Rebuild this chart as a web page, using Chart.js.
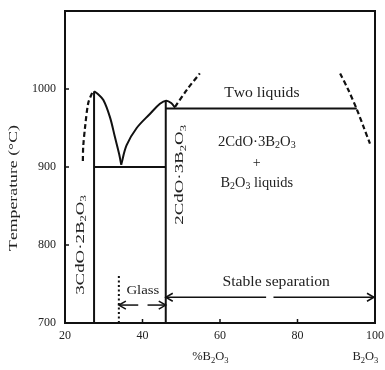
<!DOCTYPE html>
<html><head><meta charset="utf-8">
<script src="https://cdn.jsdelivr.net/npm/chart.js@4"></script>
<style>html,body{margin:0;padding:0;background:#fff}</style>
</head><body>
<canvas id="c" width="385" height="370"></canvas>
<script>
// ---- data (wt% B2O3, temperature °C) ----
const xTicks = [20, 40, 60, 80, 100];
const yTicks = [700, 800, 900, 1000];
const xRange = [20, 100];
const yRange = [700, 1100];

const compound32 = [[27.5, 700], [27.5, 997]];
const compound23 = [[46, 700], [46, 985]];
const eutecticLine = [[27.5, 900], [46, 900]];
const monotecticLine = [[46, 975], [95.3, 975]];
const liquidusA = [[27.5, 997], [28.4, 994], [29.9, 986], [31.6, 964], [32.9, 938], [34.0, 916], [34.5, 903]];
const liquidusB = [[34.5, 903], [35.9, 928], [38.5, 950], [41.9, 968], [44.5, 981], [46.1, 985], [47.4, 982], [48.4, 976]];
const dashedLeft = [[27.0, 995], [26.0, 982], [25.2, 952], [24.7, 926], [24.6, 905]];
const dashedMid = [[48.4, 977], [51.6, 1000], [54.8, 1020]];
const dashedRight = [[91.0, 1020], [93.1, 999], [95.3, 974], [97.0, 952], [98.7, 930]];
const glassBoundary = [[33.9, 700], [33.9, 762]];
const glassArrowL = [[33.9, 723], [38.9, 723]];
const glassArrowR = [[41.3, 723], [46, 723]];
const stableArrowL = [[46, 733], [71.9, 733]];
const stableArrowR = [[73.8, 733], [100, 733]];

const toPts = a => a.map(p => ({x: p[0], y: p[1]}));
const INK = '#111';
function solid(d, t) { return {data: toPts(d), showLine: true, borderColor: INK, borderWidth: 2, pointRadius: 0, tension: t || 0, fill: false}; }
function dashed(d, t) { return {data: toPts(d), showLine: true, borderColor: INK, borderWidth: 2.2, borderDash: [5, 3], pointRadius: 0, tension: t || 0, fill: false}; }
function thin(d) { return {data: toPts(d), showLine: true, borderColor: INK, borderWidth: 1.5, pointRadius: 0, fill: false}; }

const FONT = "'Liberation Serif', 'DejaVu Serif', serif";
const TEXT = '#222';

function rich(ctx, str, x, y, size, rot, stretch) {
  // '_' marks the next char as subscript
  const segs = [];
  for (let i = 0; i < str.length; i++) {
    if (str[i] === '_' && i + 1 < str.length) { segs.push({t: str[i + 1], sub: true}); i++; }
    else segs.push({t: str[i], sub: false});
  }
  let w = 0;
  segs.forEach(s => { ctx.font = (s.sub ? size * 0.68 : size) + 'px ' + FONT; s.w = ctx.measureText(s.t).width; w += s.w; });
  ctx.save();
  ctx.translate(x, y);
  if (rot) ctx.rotate(rot);
  ctx.scale(stretch || 1, 1);
  ctx.fillStyle = TEXT;
  ctx.textBaseline = 'middle';
  ctx.textAlign = 'left';
  let cx = -w / 2;
  segs.forEach(s => {
    ctx.font = (s.sub ? size * 0.68 : size) + 'px ' + FONT;
    ctx.fillText(s.t, cx, s.sub ? size * 0.28 : 0);
    cx += s.w;
  });
  ctx.restore();
}

function arrowHead(ctx, px, py, dir) {
  ctx.beginPath();
  ctx.moveTo(px - dir * 7, py - 4);
  ctx.lineTo(px, py);
  ctx.lineTo(px - dir * 7, py + 4);
  ctx.stroke();
}

const decor = {
  id: 'decor',
  afterDatasetsDraw(chart) {
    const {ctx, chartArea: a, scales: {x, y}} = chart;
    ctx.save();
    ctx.strokeStyle = INK;
    ctx.lineWidth = 2;
    ctx.strokeRect(a.left, a.top, a.right - a.left, a.bottom - a.top);
    ctx.lineWidth = 1.5;
    xTicks.slice(1, -1).forEach(v => { const px = x.getPixelForValue(v); ctx.beginPath(); ctx.moveTo(px, a.bottom); ctx.lineTo(px, a.bottom - 4); ctx.stroke(); });
    yTicks.slice(1).forEach(v => { const py = y.getPixelForValue(v); ctx.beginPath(); ctx.moveTo(a.left, py); ctx.lineTo(a.left + 4, py); ctx.stroke(); });
    // arrowheads
    ctx.lineWidth = 1.5;
    arrowHead(ctx, x.getPixelForValue(glassArrowL[0][0]), y.getPixelForValue(glassArrowL[0][1]), -1);
    arrowHead(ctx, x.getPixelForValue(glassArrowR[1][0]), y.getPixelForValue(glassArrowR[1][1]), 1);
    arrowHead(ctx, x.getPixelForValue(stableArrowL[0][0]), y.getPixelForValue(stableArrowL[0][1]), -1);
    arrowHead(ctx, x.getPixelForValue(stableArrowR[1][0]) - 1, y.getPixelForValue(stableArrowR[1][1]), 1);
    // labels in data space
    const P = (vx, vy) => [x.getPixelForValue(vx), y.getPixelForValue(vy)];
    let p;
    p = P(70.8, 995); rich(ctx, 'Two liquids', p[0], p[1], 14, 0, 1.12);
    p = P(69.5, 932); rich(ctx, '2CdO\u00b73B_2O_3', p[0], p[1], 14, 0, 1.05);
    p = P(69.5, 905); rich(ctx, '+', p[0], p[1], 14);
    p = P(69.5, 879.5); rich(ctx, 'B_2O_3 liquids', p[0], p[1], 14, 0, 1.03);
    p = P(40.1, 742); rich(ctx, 'Glass', p[0], p[1], 13.5, 0, 1.1);
    p = P(74.5, 752.6); rich(ctx, 'Stable separation', p[0], p[1], 14, 0, 1.12);
    p = P(24.0, 800); rich(ctx, '3CdO\u00b72B_2O_3', p[0], p[1], 13, -Math.PI / 2, 1.45);
    p = P(49.6, 890); rich(ctx, '2CdO\u00b73B_2O_3', p[0], p[1], 13, -Math.PI / 2, 1.45);
    // axis titles
    rich(ctx, 'Temperature (\u00b0C)', 14, 188, 12.5, -Math.PI / 2, 1.42);
    rich(ctx, '%B_2O_3', x.getPixelForValue(57.5), a.bottom + 34, 12.5);
    rich(ctx, 'B_2O_3', x.getPixelForValue(97.5), a.bottom + 34, 12.5);
    ctx.restore();
  }
};

new Chart(document.getElementById('c'), {
  type: 'scatter',
  data: {datasets: [
    solid(compound32), solid(compound23), solid(eutecticLine), solid(monotecticLine),
    solid(liquidusA, 0.35), solid(liquidusB, 0.35),
    dashed(dashedLeft, 0.3), dashed(dashedMid, 0.3), dashed(dashedRight, 0.3),
    {data: toPts(glassBoundary), showLine: true, borderColor: INK, borderWidth: 2, borderDash: [2, 2.5], pointRadius: 0},
    thin(glassArrowL), thin(glassArrowR), thin(stableArrowL), thin(stableArrowR)
  ]},
  options: {
    responsive: false, animation: false, devicePixelRatio: 1,
    layout: {padding: {left: 0, top: 11, right: 10, bottom: 0}},
    plugins: {legend: {display: false}, tooltip: {enabled: false}},
    scales: {
      x: {type: 'linear', min: xRange[0], max: xRange[1],
        afterBuildTicks: s => { s.ticks = xTicks.map(v => ({value: v})); },
        afterFit: s => { s.height = 47; s.paddingLeft = 0; s.paddingRight = 0; },
        grid: {display: false, drawTicks: false}, border: {display: false},
        ticks: {font: {family: FONT, size: 12}, color: TEXT, padding: 6, maxRotation: 0, autoSkip: false, callback: v => String(v)}},
      y: {type: 'linear', min: yRange[0], max: yRange[1],
        afterBuildTicks: s => { s.ticks = yTicks.map(v => ({value: v})); },
        afterFit: s => { s.width = 65; s.paddingTop = 0; s.paddingBottom = 0; },
        grid: {display: false, drawTicks: false}, border: {display: false},
        ticks: {font: {family: FONT, size: 12}, color: TEXT, padding: 9, autoSkip: false, callback: v => String(v)}}
    }
  },
  plugins: [decor]
});
</script>
</body></html>
